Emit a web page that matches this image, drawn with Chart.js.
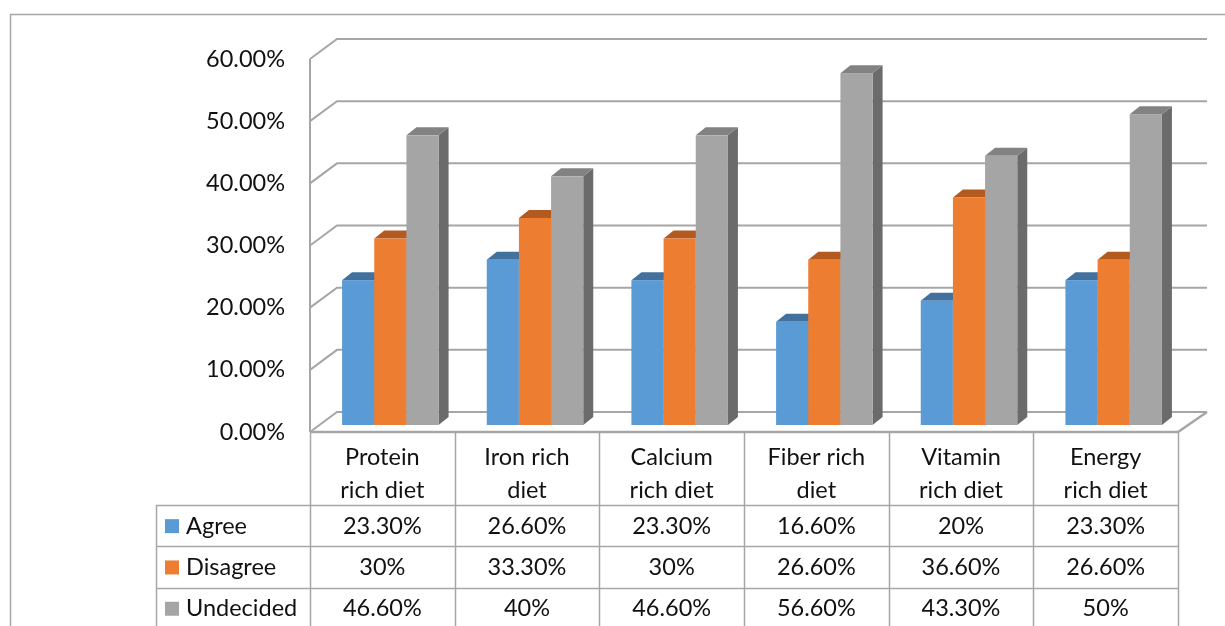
<!DOCTYPE html>
<html>
<head>
<meta charset="utf-8">
<script src="https://cdn.jsdelivr.net/npm/chart.js@4/dist/chart.umd.min.js"></script>
<style>
  html, body { margin: 0; padding: 0; background: #ffffff; }
  #wrap { width: 1225px; height: 626px; }
</style>
</head>
<body>
<div id="wrap"><canvas id="c" width="1225" height="626"></canvas></div>
<script>
// ---- data ----
const categories = [
  ["Protein", "rich diet"],
  ["Iron rich", "diet"],
  ["Calcium", "rich diet"],
  ["Fiber rich", "diet"],
  ["Vitamin", "rich diet"],
  ["Energy", "rich diet"]
];
const seriesNames = ["Agree", "Disagree", "Undecided"];
const agree     = [23.3, 26.6, 23.3, 16.6, 20, 23.3];
const disagree  = [30, 33.3, 30, 26.6, 36.6, 26.6];
const undecided = [46.6, 40, 46.6, 56.6, 43.3, 50];
const yTicks = [0, 10, 20, 30, 40, 50, 60];

// ---- styles ----
const FONT = "Lato, 'Open Sans', sans-serif";
const FSIZE = 23.5;
const colors = {
  front: ["#5B9BD5", "#ED7D31", "#A5A5A5"],
  top:   ["#41719C", "#B35A21", "#828282"],
  side:  ["#3A6A94", "#A9541F", "#6B6B6B"]
};
const GRID = "#A6A6A6";
const WALL = { dx: 27, dy: -20 };   // depth of the back wall
const BAR_OFF = { dx: 8, dy: -7 };   // front face of bars inside the box
const BAR_D = { dx: 10, dy: -8 };    // depth of each bar

function fmt(v) {
  return Number.isInteger(v) ? v + "%" : v.toFixed(2) + "%";
}

const threeD = {
  id: "threeD",
  beforeDraw(chart) {
    const ctx = chart.ctx;
    ctx.save();
    // outer frame
    ctx.strokeStyle = "#A6A6A6";
    ctx.lineWidth = 1.5;
    ctx.beginPath();
    ctx.moveTo(10.5, 640);
    ctx.lineTo(10.5, 14.5);
    ctx.lineTo(1230, 14.5);
    ctx.stroke();

    const ys = chart.scales.y, xs = chart.scales.x;
    const L = chart.chartArea.left, R = chart.chartArea.right;
    ctx.strokeStyle = GRID;
    ctx.lineWidth = 2;
    // back wall grid lines + side diagonals
    yTicks.forEach(t => {
      const y = ys.getPixelForValue(t);
      ctx.beginPath();
      ctx.moveTo(L, y);
      ctx.lineTo(L + WALL.dx, y + WALL.dy);
      ctx.lineTo(R + WALL.dx + 2, y + WALL.dy);
      ctx.stroke();
    });
    // front vertical axis
    const y0 = ys.getPixelForValue(0), yT = ys.getPixelForValue(yTicks[yTicks.length - 1]);
    ctx.beginPath();
    ctx.moveTo(L, yT);
    ctx.lineTo(L, y0);
    ctx.stroke();
    // floor: front edge and right diagonal
    ctx.lineWidth = 2.5;
    ctx.beginPath();
    ctx.moveTo(L, y0);
    ctx.lineTo(R, y0);
    ctx.lineTo(R + WALL.dx + 2, y0 + WALL.dy);
    ctx.stroke();
    ctx.restore();
  },
  beforeDatasetDraw() { return false; },
  afterDatasetsDraw(chart) {
    const ctx = chart.ctx;
    const n = chart.data.labels.length;
    ctx.save();
    for (let i = 0; i < n; i++) {
      chart.data.datasets.forEach((ds, di) => {
        const el = chart.getDatasetMeta(di).data[i];
        const l = el.x - el.width / 2 + BAR_OFF.dx;
        const r = el.x + el.width / 2 + BAR_OFF.dx;
        const t = el.y + BAR_OFF.dy;
        const b = el.base + BAR_OFF.dy;
        // side
        ctx.fillStyle = colors.side[di];
        ctx.beginPath();
        ctx.moveTo(r, t); ctx.lineTo(r + BAR_D.dx, t + BAR_D.dy);
        ctx.lineTo(r + BAR_D.dx, b + BAR_D.dy); ctx.lineTo(r, b);
        ctx.closePath(); ctx.fill();
        // top
        ctx.fillStyle = colors.top[di];
        ctx.beginPath();
        ctx.moveTo(l, t); ctx.lineTo(l + BAR_D.dx, t + BAR_D.dy);
        ctx.lineTo(r + BAR_D.dx, t + BAR_D.dy); ctx.lineTo(r, t);
        ctx.closePath(); ctx.fill();
        // front
        ctx.fillStyle = colors.front[di];
        ctx.fillRect(l, t, r - l, b - t);
      });
    }
    ctx.restore();
  },
  afterDraw(chart) {
    const ctx = chart.ctx;
    const xs = chart.scales.x, ys = chart.scales.y;
    const n = chart.data.labels.length;
    const L = chart.chartArea.left, R = chart.chartArea.right;
    const cw = (R - L) / n;
    const top = ys.getPixelForValue(0);
    const hdrBottom = top + 73;
    const rowH = 41.3;
    const legLeft = 156;
    ctx.save();
    ctx.strokeStyle = "#A6A6A6";
    ctx.lineWidth = 1.5;
    // horizontal lines
    ctx.beginPath();
    for (let k = 0; k < 3; k++) {
      const y = Math.round(hdrBottom + k * rowH) + 0.5;
      ctx.moveTo(legLeft, y); ctx.lineTo(R, y);
    }
    ctx.stroke();
    // vertical lines
    ctx.beginPath();
    for (let i = 0; i <= n; i++) {
      const x = Math.round(xs.getPixelForValue(i) - cw / 2) + 0.5;
      ctx.moveTo(x, top); ctx.lineTo(x, 640);
    }
    ctx.moveTo(legLeft + 0.5, hdrBottom); ctx.lineTo(legLeft + 0.5, 640);
    ctx.stroke();

    ctx.fillStyle = "#111111";
    ctx.font = FSIZE + "px " + FONT;
    ctx.textAlign = "center";
    ctx.textBaseline = "middle";
    // header
    for (let i = 0; i < n; i++) {
      const x = xs.getPixelForValue(i);
      const lines = chart.data.labels[i];
      ctx.fillText(lines[0], x, top + 25);
      ctx.fillText(lines[1], x, top + 58);
    }
    // rows
    chart.data.datasets.forEach((ds, di) => {
      const yc = hdrBottom + di * rowH + rowH / 2 + 0.5;
      ctx.fillStyle = colors.front[di];
      ctx.fillRect(legLeft + 9, yc - 7, 14, 14);
      ctx.fillStyle = "#111111";
      ctx.textAlign = "left";
      ctx.fillText(ds.label, legLeft + 30, yc);
      ctx.textAlign = "center";
      ds.data.forEach((v, i) => {
        ctx.fillText(fmt(v), xs.getPixelForValue(i), yc);
      });
    });
    ctx.restore();
  }
};

new Chart(document.getElementById("c"), {
  type: "bar",
  data: {
    labels: categories,
    datasets: [
      { label: seriesNames[0], data: agree, backgroundColor: colors.front[0] },
      { label: seriesNames[1], data: disagree, backgroundColor: colors.front[1] },
      { label: seriesNames[2], data: undecided, backgroundColor: colors.front[2] }
    ]
  },
  options: {
    responsive: false,
    animation: false,
    devicePixelRatio: 1,
    layout: { padding: { left: 10, top: 59, right: 47, bottom: 194 } },
    datasets: { bar: { categoryPercentage: 0.667, barPercentage: 1 } },
    plugins: { legend: { display: false }, tooltip: { enabled: false } },
    scales: {
      x: { display: false },
      y: {
        min: 0, max: 60,
        afterFit(scale) { scale.width = 300; },
        ticks: {
          stepSize: 10,
          padding: 25,
          color: "#111111",
          font: { family: FONT, size: FSIZE },
          callback: v => v.toFixed(2) + "%"
        },
        grid: { display: false, drawTicks: false },
        border: { display: false }
      }
    }
  },
  plugins: [threeD]
});
</script>
</body>
</html>
